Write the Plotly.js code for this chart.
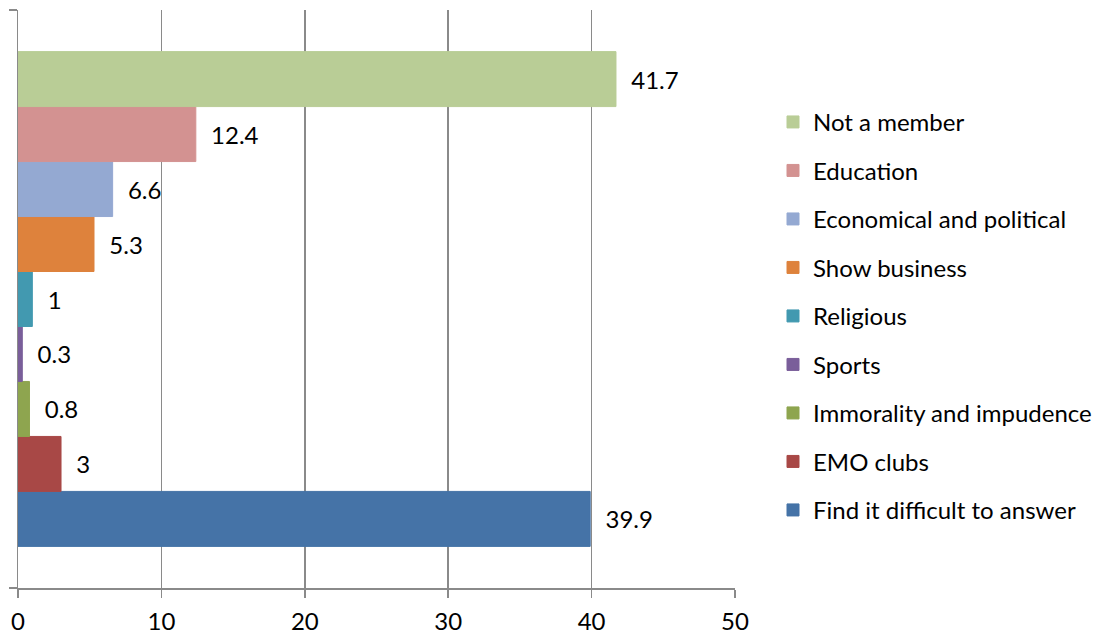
<!DOCTYPE html>
<html>
<head>
<meta charset="utf-8">
<script src="https://cdn.plot.ly/plotly-3.0.1.min.js"></script>
<style>html,body{margin:0;padding:0;background:#fff;}#chart{width:1109px;height:634px;}</style>
</head>
<body>
<div id="chart"></div>
<script>
// Series drawn bottom-to-top
const seriesNames = ["Find it difficult to answer", "EMO clubs", "Immorality and impudence", "Sports", "Religious", "Show business", "Economical and political", "Education", "Not a member"];
const seriesValues = [39.9, 3, 0.8, 0.3, 1, 5.3, 6.6, 12.4, 41.7];
const seriesColors = ["#4573A7", "#A84846", "#8EA54F", "#7A5E9A", "#4299B0", "#DE823C", "#94A9D2", "#D39291", "#B9CD96"];
const xTicks = [0, 10, 20, 30, 40, 50];

const FONT = "Lato, 'Liberation Sans', sans-serif";
const FS = 24;
const traces = seriesNames.map((name, i) => ({
  type: "bar",
  orientation: "h",
  name: name,
  legendgroup: "g" + i,
  legendrank: seriesNames.length - i,
  x: [seriesValues[i]],
  y: [0],
  marker: {color: seriesColors[i], line: {color: seriesColors[i], width: 1}},
  text: ["  " + seriesValues[i]],
  textposition: "outside",
  textfont: {family: FONT, size: FS, color: "#000"},
  constraintext: "none",
  cliponaxis: false,
  hoverinfo: "name+x"
}));

const layout = {
  width: 1109, height: 634,
  margin: {l: 18, r: 374, t: 10, b: 46},
  paper_bgcolor: "#fff", plot_bgcolor: "#fff",
  barmode: "group",
  bargap: 0.144,
  bargroupgap: 0,
  font: {family: FONT, size: FS, color: "#000"},
  xaxis: {
    range: [0, 50], tickvals: xTicks, ticktext: xTicks.map(String),
    showgrid: true, gridcolor: "#8a8a8a", gridwidth: 1.5,
    zeroline: false, showline: true, linecolor: "#8a8a8a", linewidth: 1.5,
    ticks: "outside", ticklen: 8, tickcolor: "#8a8a8a", tickwidth: 1.5,
    ticklabelstandoff: 4,
    tickfont: {family: FONT, size: FS, color: "#000"}, fixedrange: true
  },
  yaxis: {
    range: [-0.5, 0.5], tickvals: [-0.5, 0.5], showticklabels: false,
    showgrid: false, zeroline: false, showline: true, linecolor: "#8a8a8a", linewidth: 1.5,
    ticks: "outside", ticklen: 8, tickcolor: "#8a8a8a", tickwidth: 1.5, fixedrange: true
  },
  showlegend: true,
  legend: {
    traceorder: "grouped",
    tracegroupgap: 14.3,
    x: 1.053, xanchor: "left", y: 0.47, yanchor: "middle",
    font: {family: FONT, size: FS, color: "#000"},
    bgcolor: "rgba(0,0,0,0)", borderwidth: 0
  }
};

Plotly.newPlot("chart", traces, layout, {displayModeBar: false, staticPlot: true});
</script>
</body>
</html>
